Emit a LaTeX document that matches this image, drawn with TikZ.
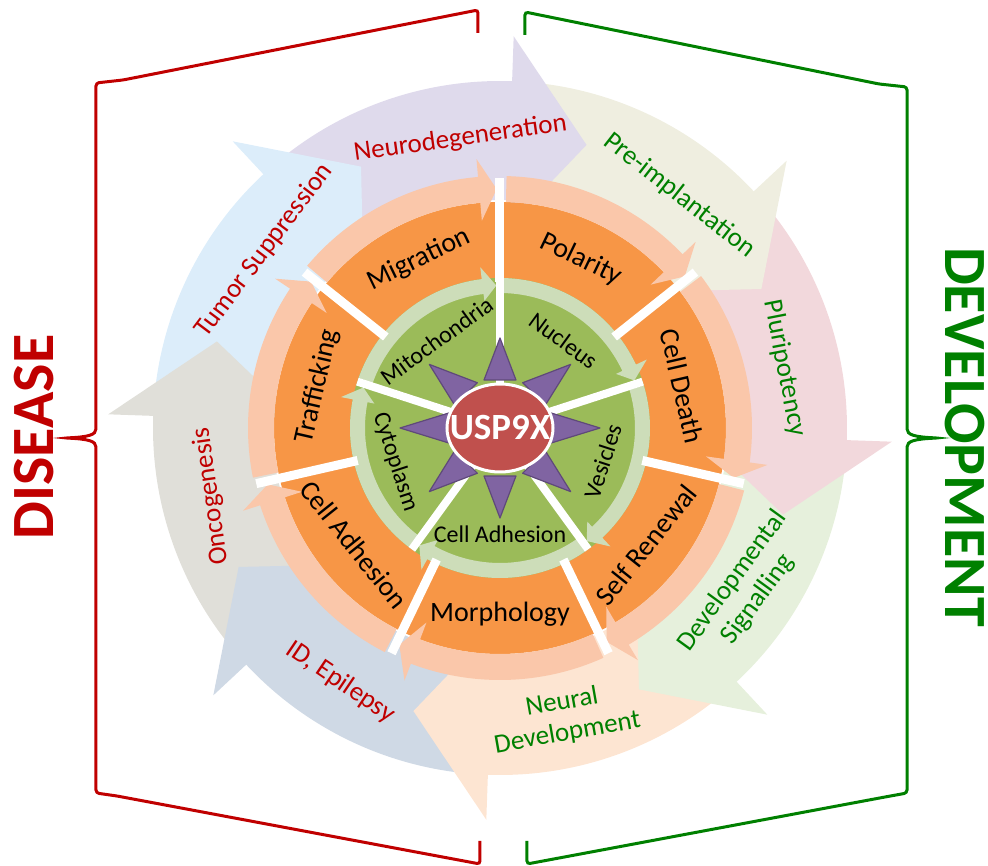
\documentclass[tikz,border=0pt]{standalone}
\usepackage{fontspec}
\setmainfont{Carlito}
\definecolor{disred}{RGB}{192,0,0}
\definecolor{devgreen}{RGB}{0,128,0}
\definecolor{orng}{RGB}{247,150,70}
\definecolor{salmon}{RGB}{250,199,170}
\definecolor{grn}{RGB}{155,187,89}
\definecolor{lgrn}{RGB}{205,221,185}
\definecolor{starfill}{RGB}{128,100,162}
\definecolor{starline}{RGB}{95,73,122}
\definecolor{usp}{RGB}{192,80,77}
\definecolor{neurocol}{RGB}{223,218,236}
\definecolor{preimpcol}{RGB}{239,238,224}
\definecolor{pluricol}{RGB}{242,216,220}
\definecolor{signalcol}{RGB}{230,240,220}
\definecolor{neuralcol}{RGB}{253,229,210}
\definecolor{idcol}{RGB}{207,217,229}
\definecolor{oncocol}{RGB}{224,223,217}
\definecolor{tumorcol}{RGB}{220,237,250}

\begin{document}
\begin{tikzpicture}[x=1pt,y=1pt,
    dis/.style={text=disred,font=\fontsize{27}{31}\selectfont,align=center,inner sep=0pt},
    devl/.style={text=devgreen,font=\fontsize{27}{31}\selectfont,align=center,inner sep=0pt},
    cell/.style={font=\fontsize{28}{30}\selectfont,inner sep=0pt},
    loc/.style={font=\fontsize{24}{26}\selectfont,inner sep=0pt},
    sep/.style={white,line width=9pt},
    tri/.style={fill=starfill,draw=starline,line width=1.2pt,line join=round},
    bracket/.style={line width=3pt,rounded corners=3pt}]
  \useasboundingbox (-500,-438) rectangle (488,428);

  \foreach \b/\c in {88/neurocol,43/preimpcol,-2/pluricol,-47/signalcol,-92/neuralcol,-137/idcol,178/oncocol,133/tumorcol}
    \fill[\c] (\b+40:347pt) arc[start angle=\b+40,end angle=\b-0.5,radius=347pt]
      -- (\b-0.5:228pt) arc[start angle=\b-0.5,end angle=\b+40,radius=228pt] -- cycle;
  \foreach \b/\c in {88/neurocol,43/preimpcol,-2/pluricol,-47/signalcol,-92/neuralcol,-137/idcol,178/oncocol,133/tumorcol}
    \fill[\c] (\b:200pt) -- (\b-15:296pt) -- (\b:392pt) -- cycle;

  \fill[orng] (0,0) circle[radius=226pt];
  \foreach \i in {0,...,6} {
    \pgfmathsetmacro\s{90-360/7*\i}
    \pgfmathsetmacro\e{\s-360/7}
    \fill[salmon] (\s-1.5:252pt) arc[start angle=\s-1.5,end angle=\e+5,radius=252pt]
      -- (\e+5:270pt) -- (\e+0.8:239pt) -- (\e+5:208pt)
      -- (\e+5:226pt) arc[start angle=\e+5,end angle=\s-1.5,radius=226pt] -- cycle;
  }

  \fill[grn] (0,0) circle[radius=150pt];
  \foreach \j in {0,...,4} {
    \pgfmathsetmacro\s{90-72*\j}
    \pgfmathsetmacro\e{\s-72}
    \fill[lgrn] (\s-1.5:150pt) arc[start angle=\s-1.5,end angle=\e+7,radius=150pt]
      -- (\e+7:162pt) -- (\e+1.5:142.5pt) -- (\e+7:128pt)
      -- (\e+7:135pt) arc[start angle=\e+7,end angle=\s-1.5,radius=135pt] -- cycle;
  }

  \foreach \i in {0,...,6}
    \draw[sep] (90-360/7*\i:146pt) -- (90-360/7*\i:250pt);
  \foreach \j in {0,...,4}
    \draw[sep,line width=8pt] (90-72*\j:0pt) -- (90-72*\j:150pt);

  \foreach \a in {0,45,...,315}
    \filldraw[tri] (\a+18.4:50.6pt) -- ({100*cos(\a)},{90*sin(\a)}) -- (\a-18.4:50.6pt) -- cycle;
  \filldraw[fill=usp,draw=white,line width=3pt] (0,0) ellipse[x radius=53pt,y radius=44pt];
  \node[text=white,font=\bfseries\fontsize{37}{37}\selectfont,inner sep=0pt] (core) at (0,0) {USP9X};

  \node[loc,rotate=-36] (nuc) at (54:108pt) {Nucleus};
  \node[loc,rotate=72] (ves) at (-18:108pt) {Vesicles};
  \node[loc] (adh) at (-90:106pt) {Cell Adhesion};
  \node[loc,rotate=-72] (cyt) at (-162:110pt) {Cytoplasm};
  \node[loc,rotate=36] (mito) at (126:108pt) {Mitochondria};

  \node[cell,rotate=-25.7] (pol) at (64.29:187pt) {Polarity};
  \node[cell,rotate=-77.1] (death) at (12.86:187pt) {Cell Death};
  \node[cell,rotate=51.4] (renew) at (-38.57:187pt) {Self Renewal};
  \node[cell] (morph) at (-90:186pt) {Morphology};
  \node[cell,rotate=-51.4] (cadh) at (-141.43:187pt) {Cell Adhesion};
  \node[cell,rotate=77.1] (traf) at (167.14:187pt) {Trafficking};
  \node[cell,rotate=25.7] (migr) at (115.71:187pt) {Migration};

  \node[dis,rotate=8] (neuro) at (97.8:292pt) {Neurodegeneration};
  \node[dis,rotate=53] (tumor) at (143:295pt) {Tumor Suppression};
  \node[dis,rotate=98] (onco) at (193.3:297pt) {Oncogenesis};
  \node[dis,rotate=-34] (epi) at (237.9:300pt) {ID, Epilepsy};
  \node[devl,rotate=10] (neural) at (-77.4:297pt) {Neural\\Development};
  \node[devl,rotate=54] (signal) at (-33.5:294pt) {Developmental\\Signalling};
  \node[devl,rotate=-79] (pluri) at (11.9:291pt) {Pluripotency};
  \node[devl,rotate=-38] (preimp) at (52.3:294pt) {Pre-implantation};

  \draw[bracket,disred] (-22,395) -- (-22,418) -- (-377,348) -- (-404,345) -- (-404,2)
    .. controls (-404,-7) and (-412,-9) .. (-435,-10)
    .. controls (-412,-11) and (-404,-13) .. (-404,-22)
    -- (-404,-365) -- (-383,-368) -- (-20,-436) -- (-20,-413);
  \draw[bracket,devgreen] (25,393) -- (25,416) -- (379,344) -- (407,341) -- (407,2)
    .. controls (407,-7) and (415,-9) .. (438,-10)
    .. controls (415,-11) and (407,-13) .. (407,-22)
    -- (407,-365) -- (385,-369) -- (27,-436) -- (27,-413);
  \node[text=disred,font=\bfseries\fontsize{60}{60}\selectfont,inner sep=0pt,rotate=90] (disease) at (-466,-9) {DISEASE};
  \node[text=devgreen,font=\bfseries\fontsize{60}{60}\selectfont,inner sep=0pt,rotate=-90] (develop) at (465,-9) {DEVELOPMENT};
\end{tikzpicture}
\end{document}
